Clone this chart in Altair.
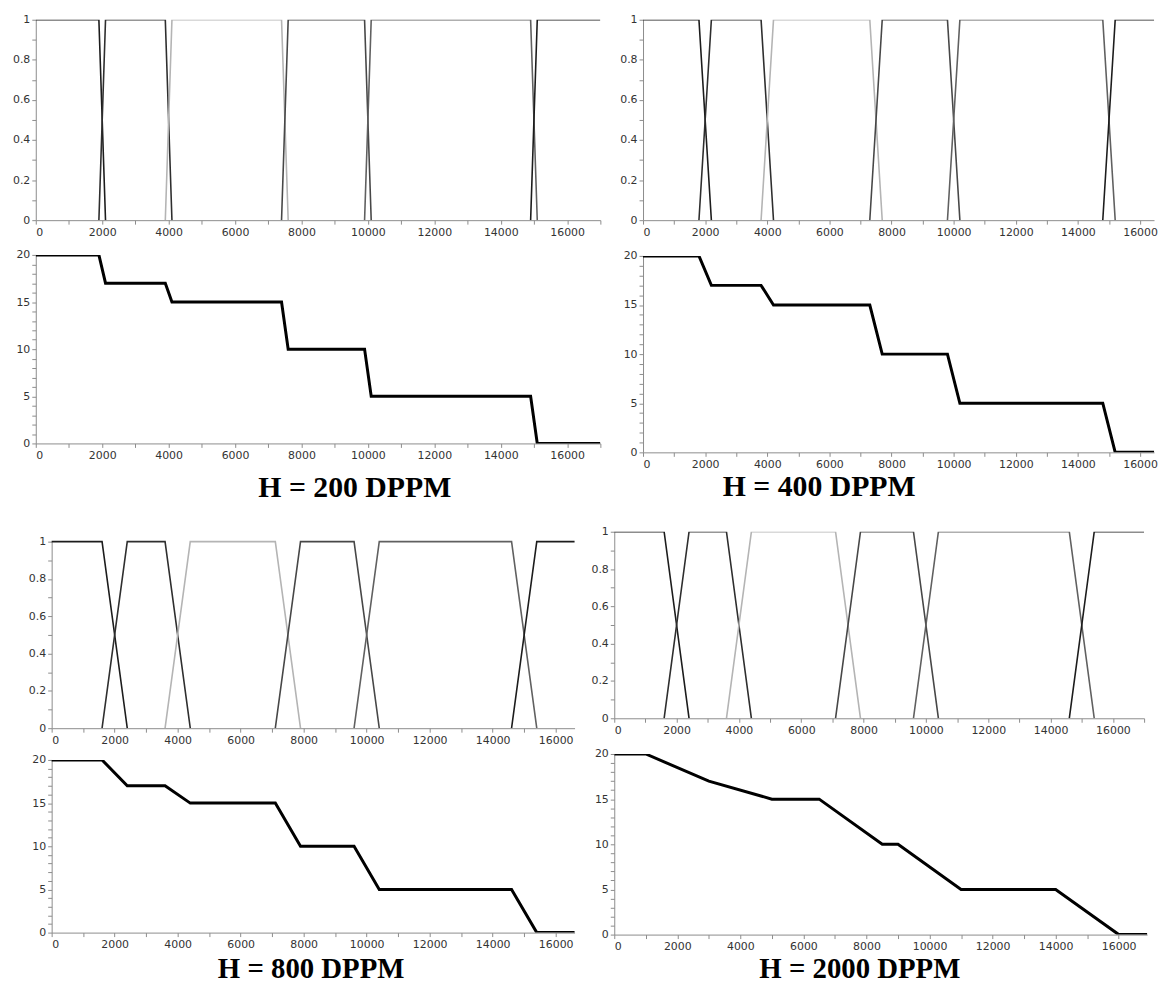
import altair as alt
import pandas as pd

# ---------------- data ----------------
CAPTIONS = ["H = 200 DPPM", "H = 400 DPPM", "H = 800 DPPM", "H = 2000 DPPM"]
SET_NAMES = ["MF1", "MF2", "MF3", "MF4", "MF5", "MF6"]
MF_COLORS = ["#1c1c1c", "#2e2e2e", "#b4b4b4", "#474747", "#606060", "#1c1c1c"]

X_END = 17000
# trapezoid break points (fall/rise pairs) of the membership functions
MF_BREAKS_200 = [1900, 2100, 3900, 4100, 7400, 7600, 9900, 10100, 14900, 15100]
MF_BREAKS_400 = [1800, 2200, 3800, 4200, 7300, 7700, 9800, 10200, 14800, 15200]
MF_BREAKS_800 = [1600, 2400, 3600, 4400, 7100, 7900, 9600, 10400, 14600, 15400]
MF_BREAKS_2000 = [1600, 2400, 3600, 4400, 7100, 7900, 9600, 10400, 14600, 15400]

# output curves
OUT_X_200 = [0, 1900, 2100, 3900, 4100, 7400, 7600, 9900, 10100, 14900, 15100, 17000]
OUT_Y_200 = [20, 20, 17, 17, 15, 15, 10, 10, 5, 5, 0, 0]
OUT_X_400 = [0, 1800, 2200, 3800, 4200, 7300, 7700, 9800, 10200, 14800, 15200, 17000]
OUT_Y_400 = [20, 20, 17, 17, 15, 15, 10, 10, 5, 5, 0, 0]
OUT_X_800 = [0, 1600, 2400, 3600, 4400, 7100, 7900, 9600, 10400, 14600, 15400, 17000]
OUT_Y_800 = [20, 20, 17, 17, 15, 15, 10, 10, 5, 5, 0, 0]
OUT_X_2000 = [0, 1000, 3000, 5000, 6500, 8500, 9000, 11000, 14000, 16000, 17000]
OUT_Y_2000 = [20, 20, 17, 15, 15, 10, 10, 5, 5, 0, 0]

X_TICKS = [0, 1000, 2000, 3000, 4000, 5000, 6000, 7000, 8000, 9000, 10000,
           11000, 12000, 13000, 14000, 15000, 16000, 17000]
MU_TICKS = [0, 0.1, 0.2, 0.3, 0.4, 0.5, 0.6, 0.7, 0.8, 0.9, 1]
OUT_TICKS = [0, 1, 2, 3, 4, 5, 6, 7, 8, 9, 10, 11, 12, 13, 14, 15, 16, 17, 18, 19, 20]


def mf_frame(b):
    pts = [
        [(0, 1), (b[0], 1), (b[1], 0)],
        [(b[0], 0), (b[1], 1), (b[2], 1), (b[3], 0)],
        [(b[2], 0), (b[3], 1), (b[4], 1), (b[5], 0)],
        [(b[4], 0), (b[5], 1), (b[6], 1), (b[7], 0)],
        [(b[6], 0), (b[7], 1), (b[8], 1), (b[9], 0)],
        [(b[8], 0), (b[9], 1), (X_END, 1)],
    ]
    rows = []
    for name, p in zip(SET_NAMES, pts):
        for i, (x, y) in enumerate(p):
            rows.append({"set": name, "x": x, "mu": y, "i": i})
    return pd.DataFrame(rows)


def x_enc(dmax, w, left):
    return alt.X("x:Q",
                 scale=alt.Scale(domain=[0, dmax], nice=False, zero=False, range=[left, left + w]),
                 axis=alt.Axis(values=[v for v in X_TICKS if v <= dmax],
                               labelExpr="datum.value % 2000 === 0 ? datum.label : ''",
                               format="d", title=None))


def top_chart(breaks, w, h, dmax, left=0, top=0):
    yaxis = dict(values=MU_TICKS, format="~g", title=None,
                 labelExpr="round(datum.value * 10) % 2 === 0 ? datum.label : ''")
    if left:
        yaxis["offset"] = -left
    return alt.Chart(mf_frame(breaks)).mark_line(strokeWidth=1.6, clip=True).encode(
        x=x_enc(dmax, w, left),
        y=alt.Y("mu:Q", scale=alt.Scale(domain=[0, 1], nice=False, range=[top + h, top]),
                axis=alt.Axis(**yaxis)),
        color=alt.Color("set:N", scale=alt.Scale(domain=SET_NAMES, range=MF_COLORS), legend=None),
        order="i:Q",
    ).properties(width=w + left, height=h + top)


def bottom_chart(xs, ys, w, h, dmax, caption, dx, offset, left=0, fs=30):
    df = pd.DataFrame({"x": xs, "v": ys, "i": list(range(len(xs)))})
    title = alt.TitleParams(caption, orient="bottom", anchor="middle", frame="group",
                            dx=dx, offset=offset, font="Liberation Serif", fontSize=fs,
                            fontWeight="bold", color="black", baseline="alphabetic")
    yaxis = dict(values=OUT_TICKS, title=None,
                 labelExpr="datum.value % 5 === 0 ? datum.label : ''")
    if left:
        yaxis["offset"] = -left
    return alt.Chart(df, title=title).mark_line(strokeWidth=3, color="black", clip=True).encode(
        x=x_enc(dmax, w, left),
        y=alt.Y("v:Q", scale=alt.Scale(domain=[0, 20], nice=False), axis=alt.Axis(**yaxis)),
        order="i:Q",
    ).properties(width=w + left, height=h)


col_tl = alt.vconcat(
    top_chart(MF_BREAKS_200, 569, 202, 17000),
    bottom_chart(OUT_X_200, OUT_Y_200, 569, 190, 17000, CAPTIONS[0], 37, 37),
    spacing=12)
col_tr = alt.vconcat(
    top_chart(MF_BREAKS_400, 515, 202, 16450),
    bottom_chart(OUT_X_400, OUT_Y_400, 515, 198, 16450, CAPTIONS[1], -80, 27),
    spacing=13)
row1 = alt.hconcat(col_tl, col_tr, spacing=18)

col_bl = alt.vconcat(
    top_chart(MF_BREAKS_800, 527, 188, 16600, left=16, top=10),
    bottom_chart(OUT_X_800, OUT_Y_800, 527, 174, 16600, CAPTIONS[2], 6, 29, left=16, fs=29),
    spacing=9)
col_br = alt.vconcat(
    top_chart(MF_BREAKS_2000, 534, 188, 17000),
    bottom_chart(OUT_X_2000, OUT_Y_2000, 537, 182, 16900, CAPTIONS[3], -21, 27, fs=29),
    spacing=13)
row2 = alt.hconcat(col_bl, col_br, spacing=16)

chart = alt.vconcat(row1, row2, spacing=23).properties(
    padding={"left": 4, "top": 2, "right": 0, "bottom": 0}
).configure_view(strokeWidth=0).configure_axis(
    domainColor="#8c8c8c", tickColor="#8c8c8c", labelColor="#333333",
    labelFont="DejaVu Sans", labelFontSize=11, tickSize=4, labelPadding=2,
    grid=False, domainWidth=1, tickWidth=1,
)

chart.save("out.html", embed_options={"renderer": "svg", "actions": False})
